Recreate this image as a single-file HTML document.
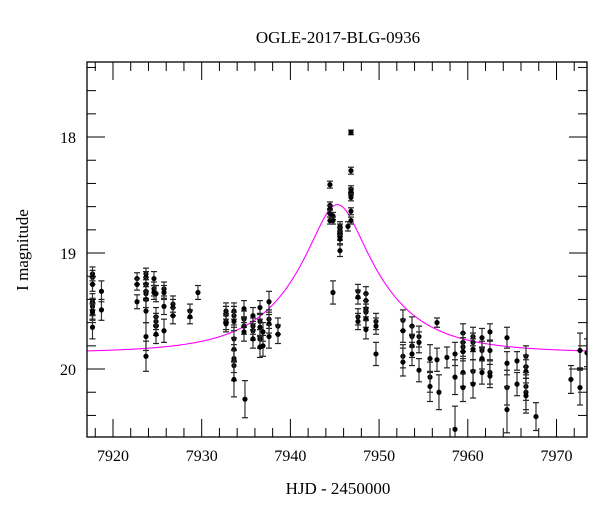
<!DOCTYPE html>
<html><head><meta charset="utf-8"><style>
html,body{margin:0;padding:0;background:#fff;}
svg{display:block;font-family:"Liberation Serif",serif;}
</style></head><body>
<svg id="chart" width="600" height="512" viewBox="0 0 600 512">
<defs><clipPath id="clip"><rect x="87" y="62" width="500" height="375"/></clipPath></defs>
<text x="338" y="43" text-anchor="middle" font-size="17">OGLE-2017-BLG-0936</text>
<text x="338" y="494" text-anchor="middle" font-size="17">HJD - 2450000</text>
<text transform="translate(28,250) rotate(-90)" text-anchor="middle" font-size="17">I magnitude</text>
<g id="axes"></g>
<g id="curve" clip-path="url(#clip)"></g>
<g id="points" clip-path="url(#clip)"></g>
<rect x="87" y="62" width="500" height="375" fill="none" stroke="#000" stroke-width="1.3"/>
</svg>
<script>
const xTicks = [7920, 7930, 7940, 7950, 7960, 7970];
const yTicks = [18, 19, 20];
const days = [
7917.69,7917.69,7917.69,7917.69,7917.69,7917.69,7917.69,7917.69,
7918.70,7918.70,
7922.71,7922.71,7922.71,
7923.72,7923.72,7923.72,7923.72,7923.72,7923.72,7923.72,7923.72,7923.72,
7924.62,7924.62,7924.62,
7924.85,7924.85,7924.85,7924.85,7924.85,
7925.75,7925.75,7925.75,7925.75,
7926.76,7926.76,7926.76,
7928.68,7928.68,
7929.58,
7932.74,7932.74,7932.74,7932.74,
7933.64,7933.64,7933.64,7933.64,7933.64,7933.64,7933.64,7933.64,
7934.77,7934.77,7934.77,7934.77,
7934.88,
7935.78,7935.78,7935.78,7935.78,
7936.57,7936.57,7936.57,7936.57,7936.57,
7936.91,7936.91,
7937.59,7937.59,7937.59,7937.59,
7938.60,7938.60,
7944.46,7944.46,7944.46,7944.46,7944.46,
7944.80,7944.80,7944.80,
7945.59,7945.59,7945.59,7945.59,7945.59,7945.59,
7946.49,
7946.83,7946.83,7946.83,7946.83,7946.83,7946.83,7946.83,
7947.62,7947.62,7947.62,7947.62,
7948.52,7948.52,7948.52,7948.52,7948.52,7948.52,
7949.65,7949.65,7949.65,
7952.69,7952.69,7952.69,7952.69,
7953.71,7953.71,7953.71,7953.71,
7954.50,7954.50,7954.50,
7955.74,7955.74,7955.74,
7956.53,7956.53,
7956.75,
7957.65,
7958.56,7958.56,7958.56,
7959.46,7959.46,7959.46,7959.46,7959.46,7959.46,
7960.59,7960.59,7960.59,7960.59,7960.59,
7961.60,7961.60,7961.60,7961.60,
7962.50,7962.50,7962.50,7962.50,
7964.42,7964.42,7964.42,7964.42,
7965.55,7965.55,
7966.56,7966.56,7966.56,7966.56,7966.56,7966.56,
7967.69,
7971.63,
7972.65,7972.65,
7973.44
];
const mags = [
19.18,19.21,19.27,19.42,19.46,19.50,19.51,19.64,
19.33,19.49,
19.22,19.27,19.42,
19.18,19.21,19.27,19.33,19.35,19.40,19.50,19.72,19.89,
19.22,19.31,19.34,
19.35,19.55,19.59,19.63,19.70,
19.31,19.34,19.46,19.67,
19.44,19.47,19.54,
19.50,19.55,
19.34,
19.50,19.53,19.59,19.61,
19.50,19.54,19.59,19.74,19.83,19.91,19.97,20.09,
19.48,19.57,19.63,19.68,
20.26,
19.54,19.63,19.67,19.74,
19.47,19.59,19.64,19.74,19.81,
19.68,19.80,
19.42,19.57,19.61,19.72,
19.63,19.70,
18.41,18.59,18.62,18.66,18.72,
18.68,18.72,19.34,
18.77,18.79,18.82,18.85,18.88,18.98,
18.77,
17.96,18.29,18.45,18.47,18.52,18.64,18.72,
19.33,19.38,19.55,19.59,
19.35,19.41,19.48,19.51,19.57,19.66,
19.59,19.63,19.87,
19.58,19.67,19.89,19.94,
19.63,19.72,19.80,19.87,
19.72,19.77,20.01,
19.91,20.07,20.15,
19.60,19.92,
20.20,
19.90,
19.87,20.07,20.52,
19.69,19.77,19.81,19.85,20.03,20.16,
19.72,19.77,19.83,20.02,20.13,
19.73,19.84,19.91,20.03,
19.68,19.84,20.03,20.06,
19.73,19.95,20.16,20.35,
19.93,20.13,
19.89,19.98,20.02,20.15,20.20,20.23,
20.41,
20.09,
19.84,20.16,
19.86
];
const errs = [
.06,.06,.06,.07,.07,.07,.07,.10,
.09,.09,
.05,.05,.06,
.05,.05,.06,.06,.06,.07,.10,.12,.13,
.06,.06,.06,
.07,.08,.07,.08,.08,
.06,.06,.07,.10,
.07,.07,.07,
.06,.06,
.06,
.07,.07,.07,.07,
.07,.08,.08,.10,.10,.12,.13,.15,
.07,.07,.07,.08,
.16,
.07,.07,.08,.08,
.06,.07,.07,.08,.09,
.08,.09,
.09,.08,.08,.10,
.07,.08,
.03,.03,.03,.03,.03,
.03,.03,.10,
.04,.04,.04,.04,.04,.05,
.04,
.02,.03,.03,.03,.03,.03,.03,
.06,.06,.07,.07,
.06,.06,.07,.07,.07,.08,
.07,.07,.10,
.09,.10,.10,.12,
.08,.09,.10,.10,
.09,.09,.10,
.12,.13,.13,
.04,.10,
.15,
.09,
.10,.15,.20,
.08,.08,.08,.08,.12,.12,
.08,.08,.09,.10,.12,
.08,.08,.09,.10,
.07,.08,.10,.10,
.09,.10,.15,.20,
.08,.10,
.09,.10,.10,.12,.15,.15,
.12,
.12,
.15,.15,
.12
];
// microlensing model parameters
const modelT0 = 7945.3, modelU0 = 0.32, modelTE = 9.15, modelBase = 19.86;

const NS = 'http://www.w3.org/2000/svg';
const X0 = 87, X1 = 587, Y0 = 62, Y1 = 437;
const dMin = 7917.07, dMax = 7973.44;
const mTop = 17.353, mBot = 20.586;
function xs(d){ return X0 + (d - dMin) / (dMax - dMin) * (X1 - X0); }
function ys(m){ return Y0 + (m - mTop) / (mBot - mTop) * (Y1 - Y0); }
function mk(tag, attrs, parent){ const e = document.createElementNS(NS, tag); for (const k in attrs) e.setAttribute(k, attrs[k]); parent.appendChild(e); return e; }

const axes = document.getElementById('axes');
// x ticks: minor every 2 days, major every 10
for (let d = 7918; d <= 7972; d += 2) {
  const major = d % 10 === 0;
  const L = major ? 18 : 9;
  const x = xs(d);
  const t1 = mk('line', {x1:x, y1:Y1, x2:x, y2:Y1-L, stroke:'#000', 'stroke-width':1}, axes);
  
  
  const t2 = mk('line', {x1:x, y1:Y0, x2:x, y2:Y0+L, stroke:'#000', 'stroke-width':1}, axes);
  
  
}
xTicks.forEach(v => {
  const t = mk('text', {x:xs(v), y:Y1+24, 'text-anchor':'middle', 'font-size':16}, axes);
  t.textContent = v;
  
  
});
// y ticks: minor every 0.2 mag
for (let i = 0; i <= 16; i++) {
  const m = 17.4 + i * 0.2;
  if (m > mBot) break;
  const major = Math.abs(m - Math.round(m)) < 1e-6;
  const L = major ? 18 : 9;
  const y = ys(m);
  const t1 = mk('line', {x1:X0, y1:y, x2:X0+L, y2:y, stroke:'#000', 'stroke-width':1}, axes);
  
  
  const t2 = mk('line', {x1:X1, y1:y, x2:X1-L, y2:y, stroke:'#000', 'stroke-width':1}, axes);
  
  
}
yTicks.forEach(v => {
  const t = mk('text', {x:X0-11, y:ys(v)+6, 'text-anchor':'end', 'font-size':16}, axes);
  t.textContent = v;
  
  
});

// model curve
function ampl(u){ return (u*u + 2) / (u * Math.sqrt(u*u + 4)); }
let dstr = '';
for (let i = 0; i <= 600; i++) {
  const d = dMin + (dMax - dMin) * i / 600;
  const tau = (d - modelT0) / modelTE;
  const u = Math.sqrt(modelU0*modelU0 + tau*tau);
  const m = modelBase - 2.5 * Math.log10(ampl(u));
  dstr += (i ? 'L' : 'M') + xs(d).toFixed(2) + ',' + ys(m).toFixed(2);
}
const curve = mk('path', {d:dstr, fill:'none', stroke:'#ff00ff', 'stroke-width':1.1}, document.getElementById('curve'));



// data points
const pg = document.getElementById('points');
days.forEach((d, i) => {
  const x = xs(d), y = ys(mags[i]);
  const ya = ys(mags[i] - errs[i]), yb = ys(mags[i] + errs[i]);
  const g = mk('g', {}, pg);
  
  
  mk('line', {x1:x, y1:ya, x2:x, y2:yb, stroke:'#333', 'stroke-width':1.2}, g);
  mk('line', {x1:x-3, y1:ya, x2:x+3, y2:ya, stroke:'#222', 'stroke-width':1.2}, g);
  mk('line', {x1:x-3, y1:yb, x2:x+3, y2:yb, stroke:'#222', 'stroke-width':1.2}, g);
  mk('circle', {cx:x, cy:y, r:2.6, fill:'#000'}, g);
});
</script>
</body></html>
